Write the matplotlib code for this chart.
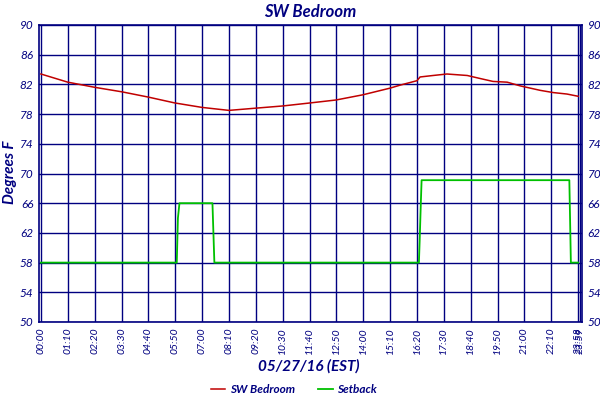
import matplotlib
matplotlib.use("Agg")
import matplotlib.pyplot as plt

plt.rcParams['font.family'] = ['Lato', 'DejaVu Sans']

NAVY = '#000080'

# time of day in minutes (axis positions), room temperature readings
temp_t = [0, 70, 141, 211, 279, 349, 420, 490, 560, 631, 701, 769, 839,
          910, 936, 980, 988, 1022, 1058, 1111, 1144, 1178, 1215, 1249,
          1301, 1335, 1371, 1400]
temp_v = [83.4, 82.3, 81.6, 81.0, 80.3, 79.5, 78.9, 78.5, 78.8, 79.1, 79.5,
          79.9, 80.6, 81.5, 81.9, 82.5, 83.0, 83.2, 83.4, 83.2, 82.8, 82.4,
          82.3, 81.8, 81.2, 80.9, 80.7, 80.4]

# thermostat setback schedule
setback_t = [0, 354, 355, 357, 361, 447, 452, 985, 987, 990, 992, 1377,
             1379, 1381, 1400]
setback_v = [58, 58, 60, 64, 66, 66, 58, 58, 61, 66, 69.1, 69.1, 63.6, 58, 58]

tick_pos = [i * 70 for i in range(20)] + [1400, 1405]
tick_labels = ['00:00', '01:10', '02:20', '03:30', '04:40', '05:50', '07:00',
               '08:10', '09:20', '10:30', '11:40', '12:50', '14:00', '15:10',
               '16:20', '17:30', '18:40', '19:50', '21:00', '22:10',
               '23:58', '23:59']
y_ticks = list(range(50, 91, 4))

fig = plt.figure(figsize=(6, 4), dpi=100)
ax = fig.add_axes([0.065, 0.195, 0.905, 0.7425])

ax.plot(temp_t, temp_v, color='#C00000', lw=1.1, label='SW Bedroom', zorder=3)
ax.plot(setback_t, setback_v, color='#00C000', lw=1.3, label='Setback', zorder=3)

ax.set_xlim(-5, 1410)
ax.set_ylim(50, 90)
ax.set_xticks(tick_pos)
ax.set_xticklabels(tick_labels, rotation=90, fontsize=7.5, style='italic', color=NAVY)
ax.set_yticks(y_ticks)
ax.set_yticklabels([str(v) for v in y_ticks], fontsize=8.5, style='italic', color=NAVY)
ax.tick_params(length=0, pad=4)
ax.tick_params(axis='y', labelright=True)
ax.grid(True, color=NAVY, lw=1.0)
for s in ax.spines.values():
    s.set_color(NAVY)
    s.set_linewidth(1.2)

ax.set_title('SW Bedroom', fontsize=12, fontweight='bold', style='italic',
             color=NAVY, pad=6)
fig.text(0.016, 0.57, 'Degrees F', rotation=90, ha='center', va='center',
         fontsize=11, fontweight='bold', style='italic', color=NAVY)
fig.text(0.515, 0.085, '05/27/16 (EST)', ha='center', va='center',
         fontsize=11, fontweight='bold', style='italic', color=NAVY)

leg = fig.legend(loc='center', bbox_to_anchor=(0.49, 0.026), ncol=2,
                 frameon=False, handlelength=1.2, handletextpad=0.4,
                 columnspacing=2.0, borderpad=0,
                 prop={'weight': 'bold', 'style': 'italic', 'size': 8.5})
for t in leg.get_texts():
    t.set_color(NAVY)

fig.savefig('out.png', dpi=100)
